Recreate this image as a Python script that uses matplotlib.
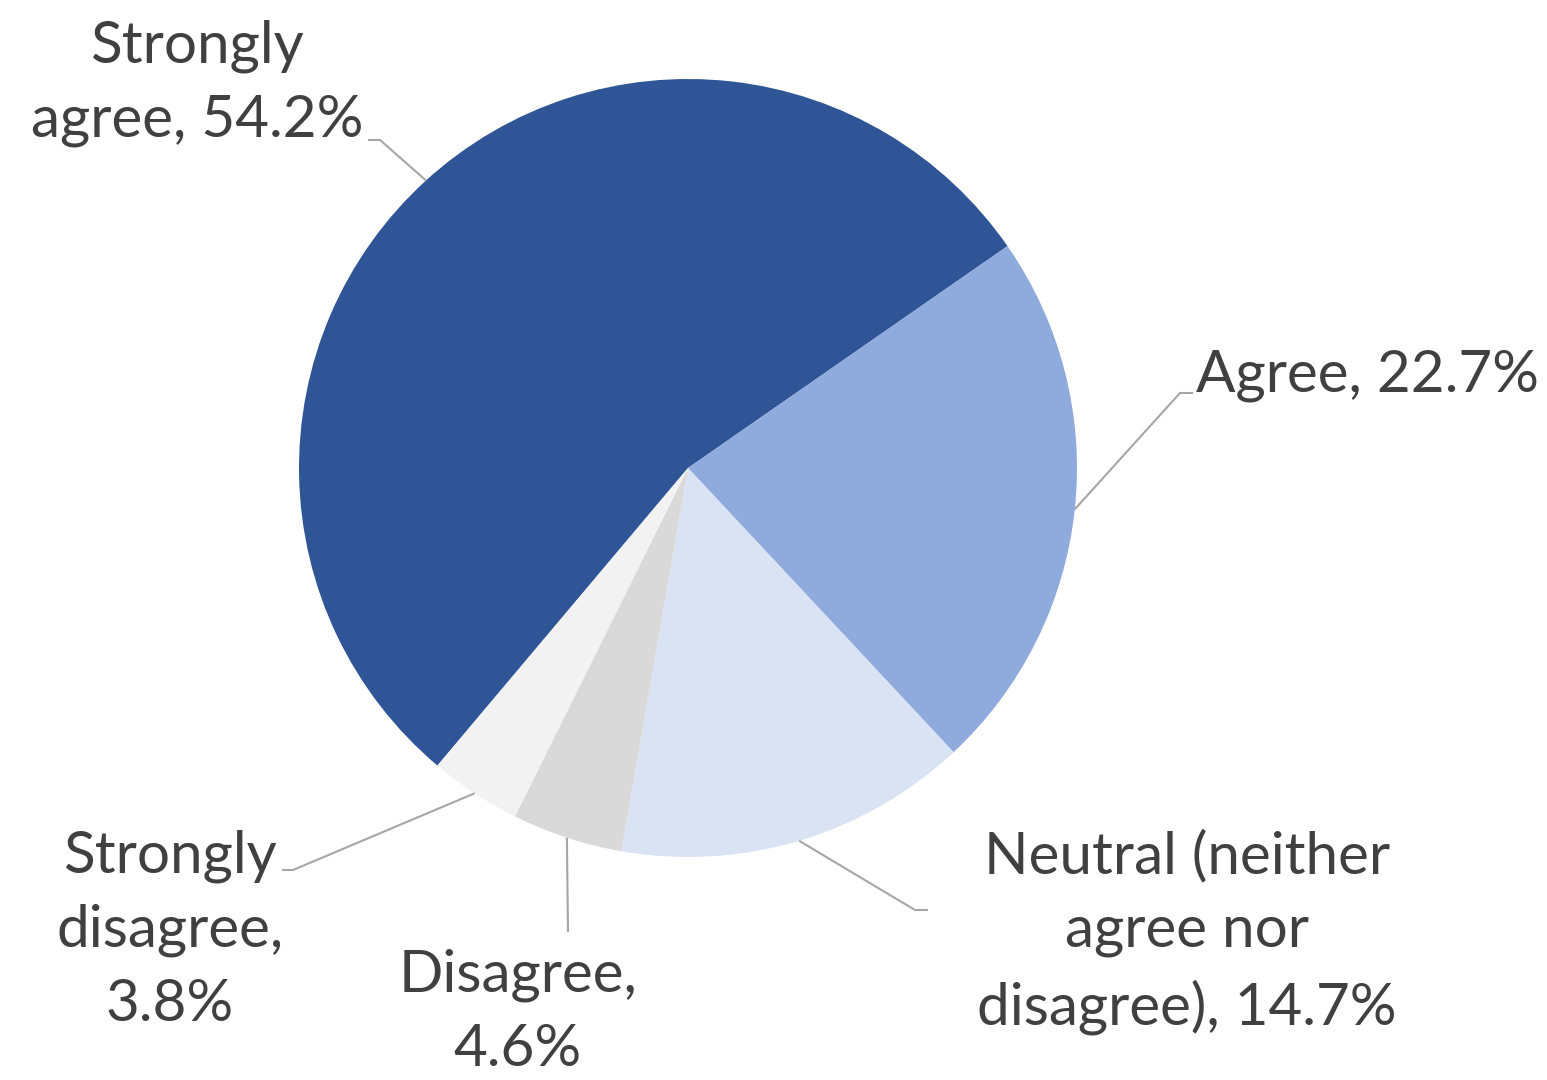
import numpy as np
import matplotlib
matplotlib.use("Agg")
import matplotlib.pyplot as plt

# Survey responses
categories = ["Strongly agree", "Agree", "Neutral (neither agree nor disagree)",
              "Disagree", "Strongly disagree"]
label_text = ["Strongly\nagree, 54.2%", "Agree, 22.7%",
              "Neutral (neither\nagree nor\ndisagree), 14.7%",
              "Disagree,\n4.6%", "Strongly\ndisagree,\n3.8%"]
values = [54.2, 22.7, 14.7, 4.6, 3.8]
colors = ["#2F5597", "#8FAADC", "#DAE3F3", "#D9D9D9", "#F2F2F2"]

W, H = 1547, 1080
fig = plt.figure(figsize=(W / 100, H / 100), dpi=100)
ax = fig.add_axes([0, 0, 1, 1])

cx, cy, r = 688, H - 468, 389
wedges, _ = ax.pie(values, colors=colors, startangle=-130.1, counterclock=False,
                   center=(cx, cy), radius=r, frame=True,
                   wedgeprops=dict(linewidth=0))
ax.set_xlim(0, W)
ax.set_ylim(0, H)
ax.set_aspect("equal")
ax.axis("off")

# label anchor (text centre) and leader elbow, in pixel space (y down)
text_pos = [(197, 83), (1367, 375), (1187, 932), (518, 1012), (170, 930)]
elbows = [[(380, 140), (368, 140)],
          [(1180, 393), (1193, 393)],
          [(915, 910), (928, 910)],
          [(568, 932)],
          [(293, 870), (282, 870)]]

fam = ["Lato", "DejaVu Sans"]
for w, txt, (tx, ty), elb in zip(wedges, label_text, text_pos, elbows):
    mid = np.deg2rad((w.theta1 + w.theta2) / 2)
    px, py = cx + r * np.cos(mid), cy + r * np.sin(mid)
    xs = [px] + [e[0] for e in elb]
    ys = [py] + [H - e[1] for e in elb]
    ax.plot(xs, ys, color="#A6A6A6", lw=1.5, solid_capstyle="butt")
    ax.text(tx, H - ty, txt, ha="center", va="center", fontsize=42,
            color="#404040", family=fam, linespacing=1.48)

fig.savefig("out.png", dpi=100)
